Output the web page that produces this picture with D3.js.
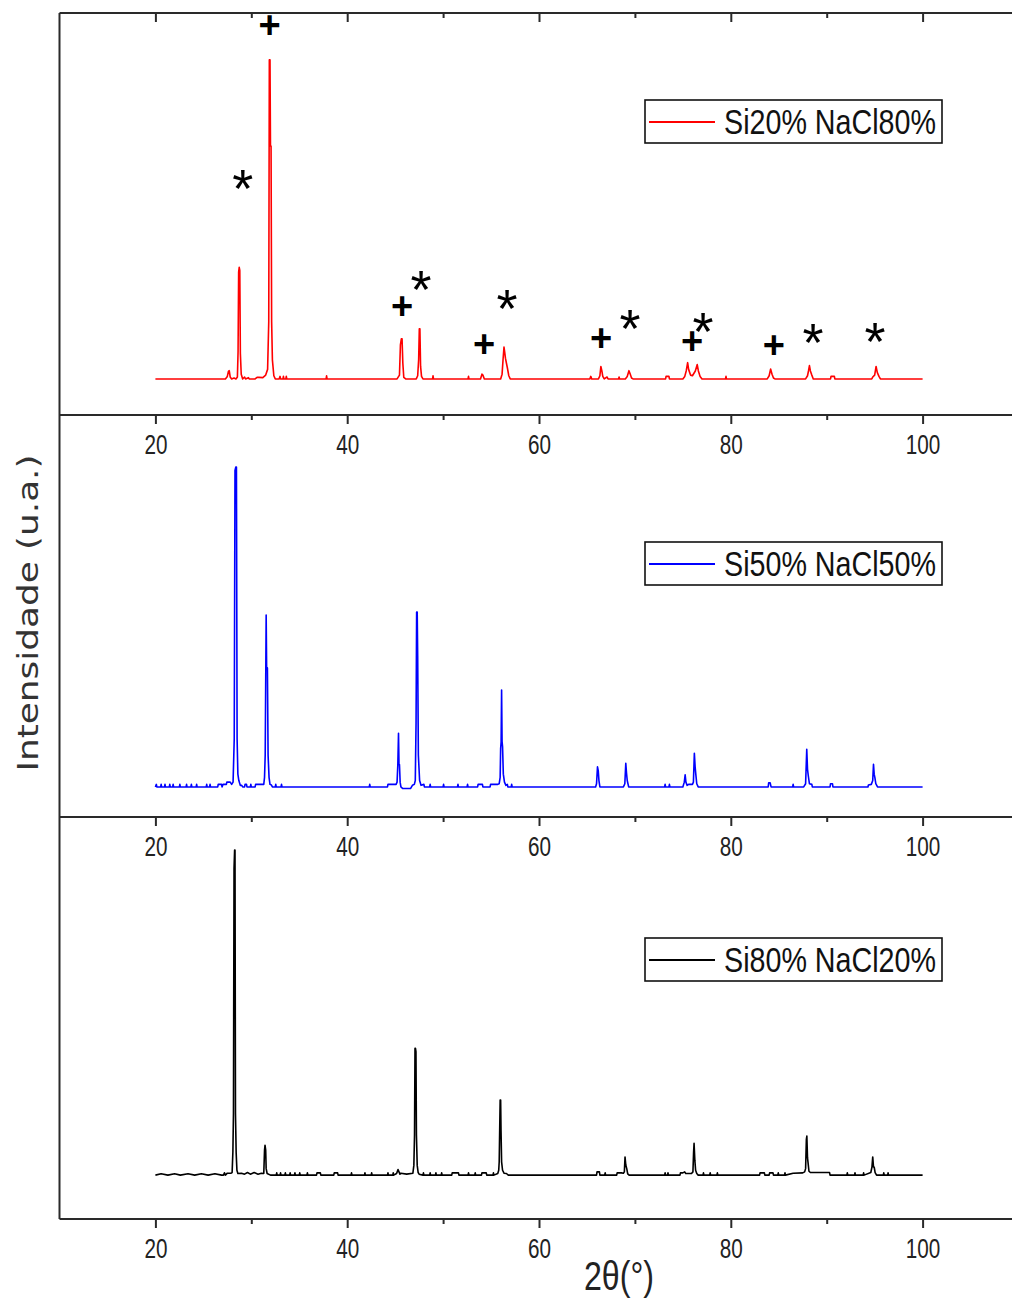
<!DOCTYPE html>
<html>
<head>
<meta charset="utf-8">
<script src="https://cdn.jsdelivr.net/npm/d3@7"></script>
<style>
body{margin:0;background:#fff}
svg{display:block}
</style>
</head>
<body>
<svg id="chart" width="1012" height="1298"></svg>
<script>
// 2theta (deg), intensity (a.u.)
var si20 = [
 [20,0],[27.3,0],[27.5,0.8],[27.62,2.4],[27.7,2.6],[27.8,0.6],[27.95,0],[28.2,0.3],[28.4,0],[28.55,0.6],
 [28.62,8.5],[28.68,33.5],[28.74,35],[28.8,34],[28.86,8],[28.95,1.5],[29.1,0],[29.3,0.6],[29.4,0],[29.7,0.4],
 [29.8,0],[30.4,0],[30.6,0.5],[30.8,0.5],[31.2,0.4],[31.5,1.2],[31.7,3],[31.82,18],[31.88,100],[31.95,100],
 [32.0,73],[32.06,73],[32.12,18],[32.2,6],[32.35,1],[32.5,0],[32.9,0],[33.0,0.8],[33.05,0],[33.3,0],
 [33.35,0.8],[33.4,0],[33.6,0],[33.65,0.8],[33.7,0],[37.8,0],[37.85,1],[37.9,0],[45.2,0],[45.45,1.2],
 [45.55,10.7],[45.65,12.6],[45.72,12.6],[45.8,5],[45.9,0.5],[46.1,0],[47.2,0],[47.35,1],[47.45,6],[47.52,15.7],
 [47.58,15.7],[47.65,4],[47.75,0.8],[47.9,0],[48.9,0],[48.95,1],[49.0,0],[52.6,0],[52.65,0.8],[52.7,0],
 [53.9,0],[54.05,1.5],[54.15,1.2],[54.3,0],[56.0,0],[56.15,1.5],[56.25,6],[56.35,10],[56.42,8.5],[56.5,6.5],
 [56.6,5],[56.7,3.5],[56.85,1],[57.0,0],[65.3,0],[65.4,0.8],[65.5,0],[66.2,0],[66.35,1],[66.45,3.9],
 [66.55,2.6],[66.65,0.8],[66.8,0],[67.1,0.6],[67.2,0],[68.3,0],[68.35,0.6],[68.4,0],[69.0,0],[69.2,0.8],
 [69.38,2.6],[69.5,1.6],[69.65,0.3],[69.8,0],[73.2,0],[73.25,0.8],[73.55,0.8],[73.6,0],[75.0,0],[75.2,0.8],
 [75.35,2.5],[75.5,5.1],[75.6,3.0],[75.8,1.2],[76.0,1.0],[76.3,2.5],[76.5,4.5],[76.62,2.5],[76.8,0.8],[77.0,0],
 [79.45,0],[79.5,0.8],[79.55,0],[83.8,0],[84.0,1],[84.15,3.1],[84.3,1.5],[84.45,0.3],[84.6,0],[87.8,0],
 [88.0,1],[88.1,2.5],[88.2,4.2],[88.3,2.5],[88.45,1.2],[88.6,0],[90.4,0],[90.45,0.8],[90.8,0.8],[90.85,0],
 [94.7,0],[94.8,0.6],[95.0,1.2],[95.15,3.9],[95.28,2],[95.45,0.8],[95.6,0],[100,0]
]

var si50 = [
 [20,0],[20.1,0.8],[20.15,0],[20.55,0],[20.6,0.8],[20.65,0],[20.95,0],[21.0,0.8],[21.05,0],[21.45,0],
 [21.5,0.8],[21.55,0],[21.8,0],[21.85,0.8],[21.9,0],[22.5,0],[22.55,0.8],[22.6,0],[23.2,0],[23.25,0.8],
 [23.3,0],[23.7,0],[23.75,0.8],[23.8,0],[24.25,0],[24.3,0.8],[24.35,0],[25.3,0],[25.35,0.8],[25.4,0],
 [25.65,0],[25.7,0.8],[25.75,0],[26.5,0],[26.55,0.8],[26.9,0.8],[26.95,0],[27.05,0.8],[27.4,0.8],[27.45,1.5],
 [27.8,1.5],[27.95,0.8],[28.1,1.5],[28.22,15],[28.3,99],[28.38,100],[28.45,100],[28.52,15],[28.6,4],[28.7,2],
 [28.85,0.5],[29.0,0.5],[29.1,0],[29.3,0],[29.35,0.8],[29.5,0.8],[29.55,0],[29.9,0],[29.95,0.8],[30.0,0],
 [30.4,0],[30.45,0.8],[30.9,0.8],[31.3,0.8],[31.38,3],[31.45,10],[31.55,53.75],[31.6,37],[31.68,37.2],[31.75,10],
 [31.85,3],[31.95,0.8],[32.1,0.6],[32.2,0],[32.5,0],[32.55,0.8],[32.6,0],[33.1,0],[33.15,0.8],[33.2,0],
 [42.3,0],[42.35,0.8],[42.4,0],[44.2,0],[44.25,0.8],[45.1,0.8],[45.2,1.5],[45.28,7],[45.35,16.8],[45.4,7],
 [45.45,7],[45.52,1.5],[45.6,0],[45.8,-0.5],[46.6,-0.5],[46.8,0.5],[47.0,0.8],[47.1,2],[47.18,20],[47.24,54.7],
 [47.3,54.7],[47.35,41],[47.42,10],[47.55,2],[47.7,0.5],[48.0,0.8],[48.05,0],[48.6,0],[48.65,0.8],[48.7,0],
 [50.0,0],[50.05,0.8],[50.1,0],[51.5,0],[51.55,0.8],[51.6,0],[52.5,0],[52.55,0.8],[52.6,0],[53.6,0],
 [53.65,0.8],[54.1,0.8],[54.15,0],[54.9,0],[54.95,0.8],[55.7,0.8],[55.85,1],[55.95,3],[56.0,12],[56.05,14],
 [56.1,30.3],[56.15,14.2],[56.2,12.6],[56.28,4],[56.4,1.5],[56.55,0.5],[56.7,0.8],[56.75,0],[57.1,0],[57.15,0.8],
 [57.2,0],[65.9,0],[66.0,1],[66.1,6.3],[66.18,5],[66.25,2],[66.35,0],[68.8,0],[68.95,1],[69.05,7.4],
 [69.12,4.5],[69.2,2],[69.35,0],[73.1,0],[73.15,0.8],[73.2,0],[73.55,0],[73.6,0.8],[73.65,0],[75.0,0],
 [75.15,1.5],[75.24,3.8],[75.32,1.5],[75.45,0.5],[75.6,0.8],[76.0,0.8],[76.1,1.5],[76.2,10.5],[76.28,6.3],[76.35,4],
 [76.45,1],[76.6,0],[83.9,0],[83.95,1.3],[84.1,1.3],[84.2,0],[86.45,0],[86.5,0.8],[86.55,0],[87.6,0],
 [87.8,1],[87.92,11.8],[88.0,5.5],[88.08,3.5],[88.2,1],[88.45,0.8],[88.5,0],[90.35,0],[90.4,1],[90.6,1],
 [90.65,0],[94.3,0],[94.35,0.6],[94.65,0.8],[94.8,2],[94.88,7.1],[94.95,4],[95.02,3],[95.12,1],[95.3,0],
 [100,0]
]

var si80 = [
 [20,0],[20.6,0.4],[21.3,0],[22.0,0.4],[22.6,0],[23.4,0.4],[24.1,0],[24.8,0.4],[25.5,0],[26.2,0.4],
 [26.9,0],[27.1,0],[27.2,0.7],[27.3,0],[27.5,0.6],[27.9,0.6],[28.0,0.8],[28.08,7.2],[28.14,19],[28.2,94.4],
 [28.26,100],[28.3,100],[28.35,19],[28.42,7],[28.5,1.5],[28.6,0.5],[28.97,0.6],[29.3,0.3],[29.6,0.8],[29.9,0.3],
 [30.3,0.8],[30.7,0.3],[31.05,0.6],[31.3,0.5],[31.38,7.7],[31.43,9.2],[31.5,7.7],[31.55,2],[31.65,0.5],[32.0,0],
 [32.6,0],[32.65,0.7],[32.7,0],[33.0,0],[33.05,0.7],[33.1,0],[33.5,0],[33.55,0.7],[33.6,0],[34.0,0],
 [34.05,0.7],[34.1,0],[34.5,0],[34.55,0.7],[34.6,0],[35.0,0],[35.05,0.7],[35.1,0],[35.8,0],[35.85,0.7],
 [35.9,0],[36.8,0],[36.85,0.7],[37.2,0.7],[37.25,0],[38.6,0],[38.65,0.7],[39.0,0.7],[39.05,0],[40.4,0],
 [40.45,0.7],[40.5,0],[41.8,0],[41.85,0.7],[41.9,0],[42.5,0],[42.55,0.7],[42.6,0],[44.2,0],[44.25,0.7],
 [44.3,0],[44.75,0],[44.8,0.7],[44.85,0],[45.15,0.5],[45.3,1.7],[45.4,1],[45.5,0.3],[45.6,0.6],[46.2,0.3],
 [46.85,0.6],[46.95,3],[47.02,12.3],[47.07,39],[47.12,39],[47.17,38],[47.22,12.3],[47.3,3],[47.4,0.8],[47.5,0.3],
 [47.9,0],[47.95,0.7],[48.0,0],[48.6,0],[48.65,0.7],[48.7,0],[49.2,0],[49.25,0.7],[49.3,0],[49.8,0],
 [49.85,0.7],[49.9,0],[50.9,0],[50.95,0.7],[51.6,0.7],[51.65,0],[52.6,0],[52.65,0.7],[52.7,0],[53.3,0],
 [53.35,0.7],[53.4,0],[54.0,0],[54.05,0.7],[54.5,0.7],[54.55,0],[55.2,0],[55.25,0.7],[55.3,0],[55.7,0.5],
 [55.8,1.5],[55.85,4.1],[55.9,13.8],[55.95,23.1],[56.0,23.1],[56.04,13.8],[56.1,4.1],[56.2,1.5],[56.35,0.6],[56.6,0.5],
 [56.8,0],[66.0,0],[66.05,1],[66.3,1],[66.35,0],[66.85,0],[66.9,0.7],[66.95,0],[68.1,0],[68.15,0.7],
 [68.6,0.7],[68.8,0.6],[68.9,1],[68.97,5.6],[69.05,3.1],[69.15,2],[69.25,0.4],[69.4,0],[73.1,0],[73.15,0.7],
 [73.2,0],[73.4,0],[73.45,0.7],[73.5,0],[74.7,0],[74.75,0.7],[75.0,0.7],[75.19,1],[75.3,0.5],[75.9,0.5],
 [76.05,1],[76.12,7],[76.17,9.8],[76.25,4.6],[76.33,1.5],[76.45,0.5],[76.6,0],[77.1,0],[77.15,0.7],[77.2,0],
 [77.8,0],[77.85,0.7],[77.9,0],[78.55,0],[78.6,0.7],[78.65,0],[83.0,0],[83.05,0.7],[83.5,0.7],[83.55,0],
 [84.0,0],[84.05,0.7],[84.4,0.7],[84.45,0],[84.9,0],[84.95,0.7],[85.0,0],[85.6,0],[85.65,0.7],[85.7,0],
 [86.5,0.6],[87.5,0.7],[87.7,1],[87.8,2],[87.88,11],[87.93,12],[88.0,5.3],[88.05,4],[88.15,1.2],[88.3,0.8],
 [88.5,0.8],[90.3,0.8],[90.35,0],[92.1,0],[92.15,0.7],[92.2,0],[92.9,0],[92.95,0.7],[93.0,0],[93.8,0],
 [93.85,0.7],[93.9,0],[94.6,0.8],[94.72,2.5],[94.8,5.6],[94.88,2.5],[94.95,2.5],[95.05,0.8],[95.2,0],[95.9,0],
 [95.95,0.7],[96.0,0],[96.35,0],[96.4,0.7],[96.45,0],[100,0]
]

// phase markers on the top pattern: + and *
var plusMarks = [[31.92,111.3],[45.72,23.2],[54.27,11.3],[66.47,13.2],[75.96,12.2],[84.50,11.0]]
var starMarks = [[29.10,62.4],[47.70,30.7],[56.67,24.8],[69.49,18.5],[77.10,17.6],[88.57,14.1],[95.04,14.4]]

var xTicks = [20,40,60,80,100]
var xMinorTicks = [30,50,70,90]
var seriesNames = ['Si20% NaCl80%','Si50% NaCl50%','Si80% NaCl20%']

var svg = d3.select('#chart')
var x = d3.scaleLinear().domain([10,110]).range([59.5,1018.5])
var narrow = '"Liberation Sans Narrow","Liberation Sans",Arial,sans-serif'

var panels = [
 {data:si20, name:seriesNames[0], color:'#ff0000', top:13, bottom:415, ydom:[-11.3,114.7], legendY:100},
 {data:si50, name:seriesNames[1], color:'#0000ff', top:415, bottom:817, ydom:[-9.4,116.3], legendY:542},
 {data:si80, name:seriesNames[2], color:'#000000', top:817, bottom:1219, ydom:[-13.5,110.2], legendY:938}
]

var axisColor = '#2a2a2a'

panels.forEach(function(p,i){
	var y = d3.scaleLinear().domain(p.ydom).range([p.bottom,p.top])
	p.y = y
	var line = d3.line().x(function(d){return x(d[0])}).y(function(d){return y(d[1])})
	svg.append('path')
	.attr('d',line(p.data))
	.attr('fill','none')
	.attr('stroke',p.color)
	.attr('stroke-width',1.6)
	.attr('stroke-linejoin','round')

	// legend
	var g = svg.append('g').attr('transform','translate(645,'+p.legendY+')')
	g.append('rect').attr('x',0).attr('y',0).attr('width',297).attr('height',43)
	.attr('fill','#fff').attr('stroke','#111').attr('stroke-width',1.6)
	g.append('line').attr('x1',4).attr('x2',70).attr('y1',22).attr('y2',22)
	.attr('stroke',p.color).attr('stroke-width',2)
	g.append('text').attr('x',79).attr('y',34)
	.attr('font-family',narrow)
	.attr('font-size',35)
	.attr('textLength',212).attr('lengthAdjust','spacingAndGlyphs')
	.attr('fill','#111')
	.text(p.name)
})

// frame
svg.append('line').attr('x1',59.5).attr('x2',59.5).attr('y1',13).attr('y2',1219)
.attr('stroke',axisColor).attr('stroke-width',2)

var hLines = [13,415,817,1219]
hLines.forEach(function(yy,i){
	svg.append('line').attr('x1',59.5).attr('x2',1012).attr('y1',yy).attr('y2',yy)
	.attr('stroke',axisColor).attr('stroke-width',2)

	var major = d3.axisBottom(x).tickValues(xTicks).tickSize(9).tickPadding(10)
	.tickFormat(i==0 ? function(){return ''} : d3.format('d'))
	var minor = d3.axisBottom(x).tickValues(xMinorTicks).tickSize(5).tickFormat(function(){return ''})

	var ga = svg.append('g').attr('transform','translate(0,'+yy+')').call(major)
	var gm = svg.append('g').attr('transform','translate(0,'+yy+')').call(minor)
	ga.select('.domain').remove()
	gm.select('.domain').remove()
	svg.selectAll('.tick line').attr('stroke',axisColor).attr('stroke-width',2)
	ga.selectAll('text')
	.attr('font-family',narrow)
	.attr('font-size',28)
	.attr('fill','#222')
	.attr('textLength',function(d){return String(d).length*11.5})
	.attr('lengthAdjust','spacingAndGlyphs')
})

// markers on the top pattern
var yTop = panels[0].y
svg.selectAll('text.plus').data(plusMarks).enter().append('text')
.attr('class','plus')
.attr('x',function(d){return x(d[0])})
.attr('y',function(d){return yTop(d[1])})
.attr('dy','0.36em')
.attr('text-anchor','middle')
.attr('font-family','"Liberation Sans",Arial,sans-serif')
.attr('font-size',38)
.attr('font-weight','bold')
.text('+')

svg.selectAll('text.star').data(starMarks).enter().append('text')
.attr('class','star')
.attr('x',function(d){return x(d[0])})
.attr('y',function(d){return yTop(d[1])})
.attr('dy','0.5em')
.attr('text-anchor','middle')
.attr('font-family','"Liberation Sans",Arial,sans-serif')
.attr('font-size',54)
.text('*')

// axis titles
svg.append('text')
.attr('transform','translate(38,613) rotate(-90)')
.attr('text-anchor','middle')
.attr('font-family','"DejaVu Sans",Verdana,sans-serif')
.attr('font-size',28)
.attr('textLength',317).attr('lengthAdjust','spacingAndGlyphs')
.attr('fill','#333')
.text('Intensidade (u.a.)')

svg.append('text')
.attr('x',619).attr('y',1290)
.attr('text-anchor','middle')
.attr('font-family',narrow)
.attr('font-size',40)
.attr('textLength',70).attr('lengthAdjust','spacingAndGlyphs')
.attr('fill','#222')
.text('2θ(°)')
</script>
</body>
</html>
